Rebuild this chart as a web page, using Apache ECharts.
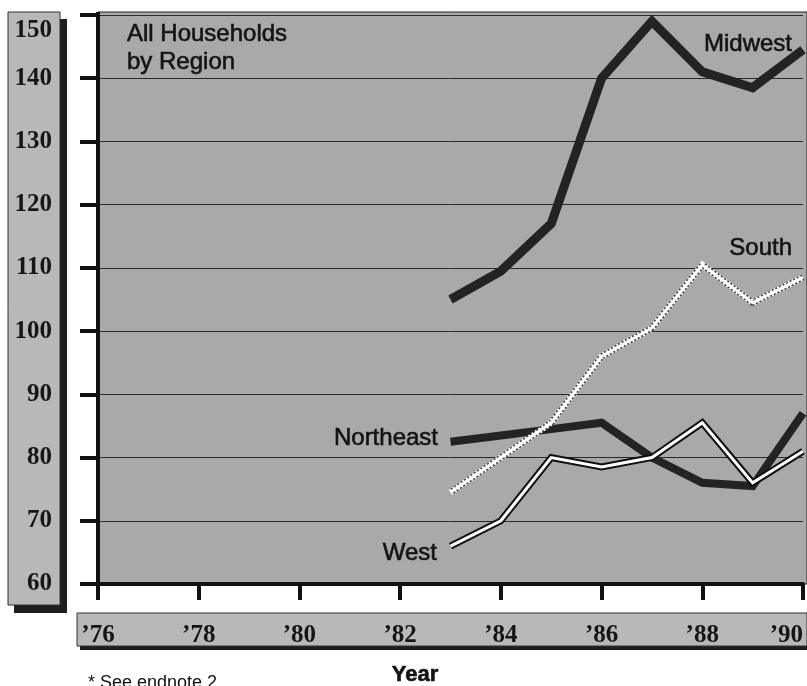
<!DOCTYPE html>
<html>
<head>
<meta charset="utf-8">
<script src="https://cdn.jsdelivr.net/npm/echarts@6/dist/echarts.min.js"></script>
<style>
html,body{margin:0;padding:0;background:#fff;}
#chart{width:807px;height:686px;}
</style>
</head>
<body>
<div id="chart"></div>
<script>
// ---- data ----
const years = [83, 84, 85, 86, 87, 88, 89, 90];
const midwest   = [105, 109.5, 117, 140, 149, 141, 138.5, 144.5];
const south     = [74.5, 80, 85.5, 96, 100.5, 110.5, 104.5, 108.5];
const northeast = [82.5, 83.5, 84.5, 85.5, 80, 76, 75.5, 87];
const west      = [66, 70, 80, 78.5, 80, 85.5, 76, 81];
const yTickValues = [60, 70, 80, 90, 100, 110, 120, 130, 140, 150];
const xTickYears = [76, 78, 80, 82, 84, 86, 88, 90];

function pairs(vals) { return years.map((y, i) => [y, vals[i]]); }

const serifBold = { fontFamily: 'Liberation Serif', fontWeight: 'bold', fontSize: 25, color: '#161616' };
const sans = '"Liberation Sans", Arial, sans-serif';
function label(text, x, y, align, font) {
  return { type: 'text', z: 100, style: { text: text, x: x, y: y, font: font || ('24px ' + sans), fill: '#141414',
    stroke: '#141414', lineWidth: 0.6, textAlign: align, textVerticalAlign: 'middle' } };
}

const chart = echarts.init(document.getElementById('chart'), null, { renderer: 'canvas' });

const option = {
  animation: false,
  backgroundColor: '#ffffff',
  grid: { left: 98, right: 4, top: 15, bottom: 102, containLabel: false, outerBoundsMode: 'none' },
  xAxis: {
    type: 'value', min: 76, max: 90, interval: 2,
    axisLine: { show: true, lineStyle: { color: '#111', width: 4 } },
    axisTick: { show: true, length: 16, lineStyle: { color: '#111', width: 4 } },
    splitLine: { show: false },
    axisLabel: Object.assign({ margin: 39, hideOverlap: false, alignMaxLabel: 'right',
      formatter: v => xTickYears.includes(v) ? '\u2019' + v : '' }, serifBold)
  },
  yAxis: {
    type: 'value', min: 60, max: 150, interval: 10,
    axisLine: { show: true, lineStyle: { color: '#111', width: 4 } },
    axisTick: { show: true, length: 18, lineStyle: { color: '#111', width: 4 } },
    splitLine: { show: true, lineStyle: { color: '#2a2a2a', width: 1 } },
    axisLabel: Object.assign({
      margin: 46,
      formatter: v => {
        if (!yTickValues.includes(v)) return '';
        return v === 150 ? '{top|' + v + '}' : String(v);
      },
      rich: { top: { padding: [32, 0, 0, 0], fontFamily: 'Liberation Serif', fontWeight: 'bold', fontSize: 25, color: '#161616' } }
    }, serifBold)
  },
  graphic: [
    { type: 'rect', z: -10, shape: { x: 98, y: 12, width: 709, height: 572 }, style: { fill: '#a9a9a9', stroke: '#222', lineWidth: 1 } },
    { type: 'rect', z: -10, shape: { x: 14, y: 19, width: 53, height: 594 }, style: { fill: '#1e1e1e' } },
    { type: 'rect', z: -9, shape: { x: 8, y: 12, width: 52, height: 593 }, style: { fill: '#b8b8b8', stroke: '#333', lineWidth: 1 } },
    { type: 'rect', z: -10, shape: { x: 80, y: 617, width: 727, height: 33 }, style: { fill: '#1e1e1e' } },
    { type: 'rect', z: -9, shape: { x: 77, y: 613, width: 730, height: 33 }, style: { fill: '#b8b8b8', stroke: '#333', lineWidth: 1 } },
    { type: 'line', z: 5, shape: { x1: 98, y1: 12, x2: 98, y2: 17 }, style: { stroke: '#111', lineWidth: 4 } },
    label('All Households', 127, 34.5, 'left'),
    label('by Region', 127, 62.5, 'left'),
    label('Midwest', 792, 44, 'right'),
    label('South', 792, 248, 'right'),
    label('Northeast', 438, 438.5, 'right'),
    label('West', 437, 553.5, 'right'),
    label('Year', 415, 675, 'center', 'bold 22px ' + sans),
    { type: 'text', z: 100, style: { text: '* See endnote 2', x: 88, y: 683.5, font: '18px ' + sans, fill: '#111', textAlign: 'left', textVerticalAlign: 'middle' } }
  ],
  series: [
    { name: 'Northeast', type: 'line', data: pairs(northeast), symbol: 'none', z: 2,
      lineStyle: { color: '#232323', width: 8, join: 'miter' } },
    { name: 'Midwest', type: 'line', data: pairs(midwest), symbol: 'none', z: 2,
      lineStyle: { color: '#232323', width: 9, join: 'miter' } },
    { name: 'South teeth light', type: 'line', data: pairs(south), symbol: 'none', z: 3,
      lineStyle: { color: '#ffffff', width: 6, type: [2, 2], join: 'miter' } },
    { name: 'South teeth dark', type: 'line', data: pairs(south), symbol: 'none', z: 3,
      lineStyle: { color: '#4a4a4a', width: 6, type: [2, 2], dashOffset: 2, join: 'miter' } },
    { name: 'South', type: 'line', data: pairs(south), symbol: 'none', z: 3,
      lineStyle: { color: '#ffffff', width: 3, join: 'miter' } },
    { name: 'West outline', type: 'line', data: pairs(west), symbol: 'none', z: 4,
      lineStyle: { color: '#111111', width: 7, join: 'miter' } },
    { name: 'West', type: 'line', data: pairs(west), symbol: 'none', z: 4,
      lineStyle: { color: '#ffffff', width: 3, join: 'miter' } }
  ]
};
chart.setOption(option);
</script>
</body>
</html>
